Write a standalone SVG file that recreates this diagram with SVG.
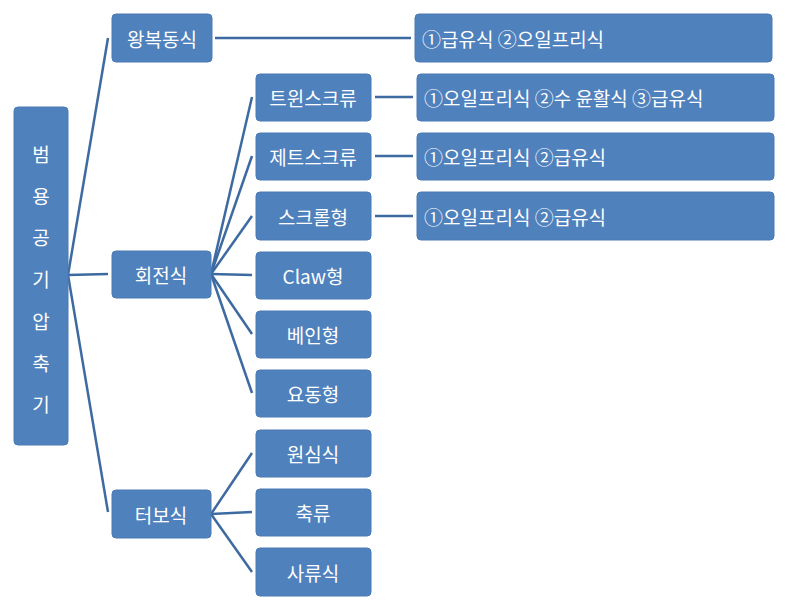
<svg xmlns="http://www.w3.org/2000/svg" width="788" height="603" viewBox="0 0 788 603">
<style>
.b{fill:#4f81bd;stroke:#4a7ab4;stroke-width:1}
.t{fill:#fff;font-family:"Noto Sans CJK KR","Noto Sans",sans-serif;font-size:19px;text-anchor:middle;dominant-baseline:central}
.l{text-anchor:start}
#c line{stroke:#3d6aa0;stroke-width:2.5;fill:none}
</style>
<rect width="788" height="603" fill="#fff"/>
<g id="c">
<line x1="68" y1="275" x2="108" y2="38"/><line x1="68" y1="275" x2="108" y2="274"/><line x1="68" y1="275" x2="108" y2="512"/>
<line x1="215" y1="38" x2="411" y2="38"/>
<line x1="211" y1="274" x2="252" y2="97"/><line x1="211" y1="274" x2="252" y2="156"/><line x1="211" y1="274" x2="252" y2="216"/><line x1="211" y1="274" x2="252" y2="275"/><line x1="211" y1="274" x2="252" y2="334"/><line x1="211" y1="274" x2="252" y2="393"/>
<line x1="211" y1="514" x2="252" y2="453"/><line x1="211" y1="514" x2="252" y2="512"/><line x1="211" y1="514" x2="252" y2="572"/>
<line x1="375" y1="97" x2="413" y2="97"/><line x1="375" y1="156" x2="413" y2="156"/><line x1="375" y1="216" x2="413" y2="216"/>
</g>
<g id="root"><rect class="b" x="14" y="107" width="54" height="338" rx="4"/>
<text class="t" x="41" y="153">범</text><text class="t" x="41" y="195">용</text><text class="t" x="41" y="236">공</text><text class="t" x="41" y="278">기</text><text class="t" x="41" y="320">압</text><text class="t" x="41" y="362">축</text><text class="t" x="41" y="403">기</text></g>
<g id="n1"><rect class="b" x="112" y="14" width="100" height="48" rx="4"/><text class="t" x="162" y="38">왕복동식</text></g>
<g id="n2"><rect class="b" x="112" y="251" width="99" height="47" rx="4"/><text class="t" x="161" y="274">회전식</text></g>
<g id="n3"><rect class="b" x="112" y="490" width="99" height="48" rx="4"/><text class="t" x="161" y="514">터보식</text></g>
<g id="a1"><rect class="b" x="256" y="74" width="115" height="47" rx="4"/><text class="t" x="313" y="97">트윈스크류</text></g>
<g id="a2"><rect class="b" x="256" y="133" width="115" height="47" rx="4"/><text class="t" x="313" y="156">제트스크류</text></g>
<g id="a3"><rect class="b" x="256" y="192" width="115" height="48" rx="4"/><text class="t" x="313" y="216">스크롤형</text></g>
<g id="a4"><rect class="b" x="256" y="252" width="115" height="47" rx="4"/><text class="t" x="313" y="275">Claw형</text></g>
<g id="a5"><rect class="b" x="256" y="311" width="115" height="47" rx="4"/><text class="t" x="313" y="334">베인형</text></g>
<g id="a6"><rect class="b" x="256" y="370" width="115" height="47" rx="4"/><text class="t" x="313" y="393">요동형</text></g>
<g id="a7"><rect class="b" x="256" y="430" width="115" height="47" rx="4"/><text class="t" x="313" y="453">원심식</text></g>
<g id="a8"><rect class="b" x="256" y="489" width="115" height="47" rx="4"/><text class="t" x="313" y="512">축류</text></g>
<g id="a9"><rect class="b" x="256" y="548" width="115" height="48" rx="4"/><text class="t" x="313" y="572">사류식</text></g>
<g id="d1"><rect class="b" x="415" y="14" width="357" height="48" rx="4"/><text class="t l" x="422" y="38">①급유식 ②오일프리식</text></g>
<g id="d2"><rect class="b" x="417" y="74" width="357" height="47" rx="4"/><text class="t l" x="424" y="97">①오일프리식 ②수 윤활식 ③급유식</text></g>
<g id="d3"><rect class="b" x="417" y="133" width="357" height="47" rx="4"/><text class="t l" x="424" y="156">①오일프리식 ②급유식</text></g>
<g id="d4"><rect class="b" x="417" y="192" width="357" height="48" rx="4"/><text class="t l" x="424" y="216">①오일프리식 ②급유식</text></g>
</svg>
